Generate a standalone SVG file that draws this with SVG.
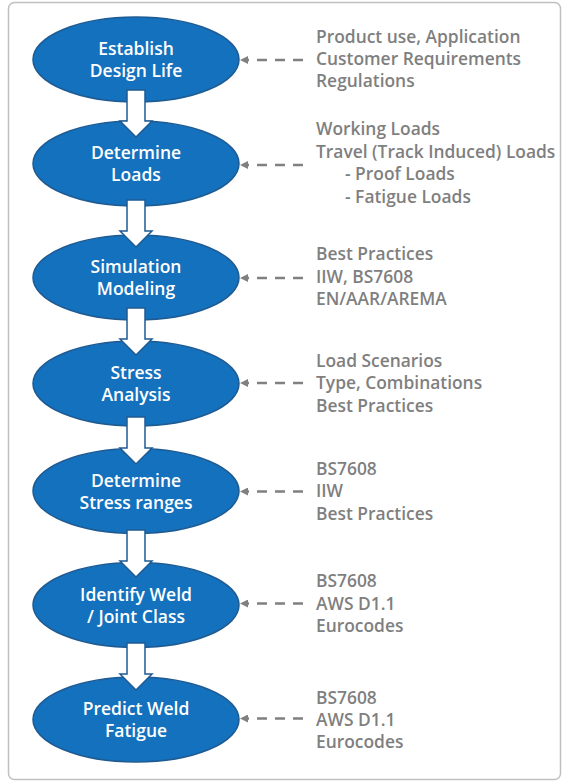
<svg xmlns="http://www.w3.org/2000/svg" width="564" height="784" viewBox="0 0 564 784">
<defs>
<style>
.node ellipse{fill:#1371bd;stroke:#1f5b93;stroke-width:1.5}
.node text{fill:#ffffff;font-family:"Open Sans","Noto Sans",sans-serif;font-weight:600;font-size:17.5px;text-anchor:middle}
.note{fill:#7f7f7f;font-family:"Open Sans","Noto Sans",sans-serif;font-weight:600;font-size:17.4px}
.flow{fill:#ffffff;stroke:#1f5b93;stroke-width:1.5;stroke-linejoin:miter}
.dash{fill:none;stroke:#808080;stroke-width:2.5;stroke-dasharray:10 8}
</style>
<marker id="ah" viewBox="0 0 8 8" refX="0" refY="4" markerWidth="8" markerHeight="8" markerUnits="userSpaceOnUse" orient="auto">
<path d="M0,0 L8,4 L0,8 Z" fill="#808080"/>
</marker>
</defs>
<rect x="8.5" y="2.5" width="552" height="777" rx="6" ry="6" fill="#ffffff" stroke="#c0c0c0" stroke-width="1.5"/>

<g id="n1" class="node"><ellipse cx="136" cy="59.5" rx="103" ry="42.5"/><text x="136" y="55">Establish</text><text x="136" y="77.3">Design Life</text></g>
<g id="n2" class="node"><ellipse cx="136" cy="163.5" rx="103" ry="42.5"/><text x="136" y="159">Determine</text><text x="136" y="181.3">Loads</text></g>
<g id="n3" class="node"><ellipse cx="136" cy="277.5" rx="103" ry="42.5"/><text x="136" y="273">Simulation</text><text x="136" y="295.3">Modeling</text></g>
<g id="n4" class="node"><ellipse cx="136" cy="383.5" rx="103" ry="42.5"/><text x="136" y="379">Stress</text><text x="136" y="401.3">Analysis</text></g>
<g id="n5" class="node"><ellipse cx="136" cy="491" rx="103" ry="42.5"/><text x="136" y="486.5">Determine</text><text x="136" y="508.8">Stress ranges</text></g>
<g id="n6" class="node"><ellipse cx="136" cy="605" rx="103" ry="42.5"/><text x="136" y="600.5">Identify Weld</text><text x="136" y="622.8">/ Joint Class</text></g>
<g id="n7" class="node"><ellipse cx="136" cy="719.5" rx="103" ry="42.5"/><text x="136" y="715">Predict Weld</text><text x="136" y="737.3">Fatigue</text></g>

<g id="connectors">
<path class="flow" d="M127,90 H145 V121 H152 L136,137 L120,121 H127 Z"/>
<path class="flow" d="M127,200 H145 V231 H152 L136,247 L120,231 H127 Z"/>
<path class="flow" d="M127,308 H145 V339 H152 L136,355 L120,339 H127 Z"/>
<path class="flow" d="M127,417 H145 V448 H152 L136,464 L120,448 H127 Z"/>
<path class="flow" d="M127,530 H145 V561 H152 L136,577 L120,561 H127 Z"/>
<path class="flow" d="M127,643 H145 V674 H152 L136,690 L120,674 H127 Z"/>
<path class="dash" d="M303,60 H248" marker-end="url(#ah)"/>
<path class="dash" d="M303,165 H248" marker-end="url(#ah)"/>
<path class="dash" d="M303,278 H248" marker-end="url(#ah)"/>
<path class="dash" d="M303,383 H248" marker-end="url(#ah)"/>
<path class="dash" d="M303,491.5 H248" marker-end="url(#ah)"/>
<path class="dash" d="M303,603.5 H248" marker-end="url(#ah)"/>
<path class="dash" d="M303,718.5 H248" marker-end="url(#ah)"/>
</g>

<g id="t1" class="note"><text x="316" y="43">Product use, Application</text><text x="316" y="65">Customer Requirements</text><text x="316" y="87">Regulations</text></g>
<g id="t2" class="note"><text x="316" y="135">Working Loads</text><text x="316" y="157.5">Travel (Track Induced) Loads</text><text x="345" y="180">- Proof Loads</text><text x="345" y="202.5">- Fatigue Loads</text></g>
<g id="t3" class="note"><text x="316" y="260">Best Practices</text><text x="316" y="282.5">IIW, BS7608</text><text x="316" y="305">EN/AAR/AREMA</text></g>
<g id="t4" class="note"><text x="316" y="366.5">Load Scenarios</text><text x="316" y="389">Type, Combinations</text><text x="316" y="411.5">Best Practices</text></g>
<g id="t5" class="note"><text x="316" y="474.5">BS7608</text><text x="316" y="497">IIW</text><text x="316" y="519.5">Best Practices</text></g>
<g id="t6" class="note"><text x="316" y="587">BS7608</text><text x="316" y="609.5">AWS D1.1</text><text x="316" y="632">Eurocodes</text></g>
<g id="t7" class="note"><text x="316" y="703.5">BS7608</text><text x="316" y="726">AWS D1.1</text><text x="316" y="748">Eurocodes</text></g>
</svg>
